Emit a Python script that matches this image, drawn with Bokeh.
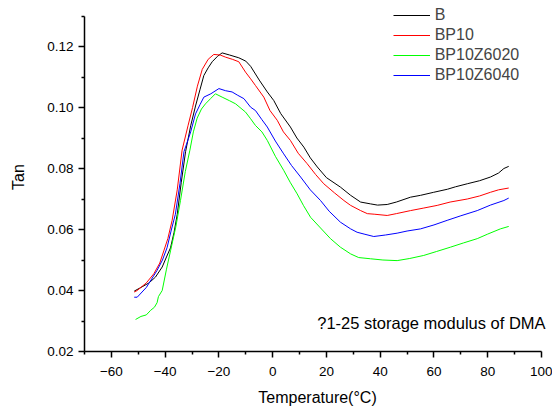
from bokeh.plotting import figure
from bokeh.models import FixedTicker, PrintfTickFormatter, Legend, LegendItem, Label, Range1d
from bokeh.embed import file_html
from bokeh.resources import INLINE

# ---- data ----
b_x = [-51.5, -49, -46, -43.6, -41.1, -39.5, -38, -36.7, -35.5, -34, -32.4, -30.5, -28.7, -27, -25.6,
       -24, -22.5, -20.5, -18.8, -16, -12.6, -10, -8.2, -5, -2, 0.4, 3, 6.6, 9, 11.6, 14, 16.6, 20, 25.2,
       29, 32.7, 36.4, 39, 42.6, 46, 51.3, 55, 59.9, 65, 68, 72.4, 77, 81, 84, 86, 87.8]
b_y = [0.0398, 0.0410, 0.0425, 0.0444, 0.0477, 0.0510, 0.0540, 0.0590, 0.0650, 0.0755, 0.0855, 0.0940,
       0.1005, 0.1060, 0.1105, 0.1130, 0.1150, 0.1168, 0.1179, 0.1172, 0.1163, 0.1152, 0.1135, 0.1090,
       0.1051, 0.1023, 0.0980, 0.0936, 0.0900, 0.0870, 0.0835, 0.0805, 0.0770, 0.0739, 0.0712, 0.0690,
       0.0684, 0.0680, 0.0682, 0.0690, 0.0706, 0.0712, 0.0722, 0.0732, 0.0740, 0.0750, 0.0760, 0.0772,
       0.0785, 0.0800, 0.0807]

bp10_x = [-51.5, -50.4, -47, -44.2, -42, -40.5, -39, -37.4, -35.5, -33.7, -31.5, -29.8, -28, -26.2, -24,
          -21.9, -19.5, -17.5, -15, -12.6, -10.1, -8.2, -6.4, -3.3, -1, 1.7, 4, 6.6, 9.5, 12.8, 16, 19, 23,
          26.5, 29, 32.7, 35.2, 38, 42.6, 46, 51.3, 56, 61.2, 66, 72.4, 77, 81, 84, 87.8]
bp10_y = [0.0395, 0.0400, 0.0425, 0.0455, 0.0490, 0.0530, 0.0570, 0.0630, 0.0730, 0.0860, 0.0940,
          0.1000, 0.1070, 0.1125, 0.1158, 0.1174, 0.1172, 0.1165, 0.1158, 0.1150, 0.1116, 0.1094,
          0.1072, 0.1034, 0.0990, 0.0958, 0.0920, 0.0892, 0.0850, 0.0816, 0.0780, 0.0750, 0.0720,
          0.0695, 0.0679, 0.0662, 0.0652, 0.0650, 0.0646, 0.0652, 0.0662, 0.0670, 0.0679, 0.0690,
          0.0700, 0.0710, 0.0722, 0.0730, 0.0736]

z20_x = [-51, -49, -47, -45.4, -44, -43, -42.5, -41.1, -39.5, -38, -36, -34.3, -32.5, -30.8, -29.5, -28.1,
         -26.5, -25, -23, -21.3, -18.8, -16, -13.8, -10.1, -8.2, -6.4, -4, -2, 1, 4.1, 6.5, 9.1, 11.5, 14.1,
         17.8, 21.5, 25.2, 29, 32, 36.4, 41, 46.3, 51, 56.2, 61, 66.1, 71, 76.1, 80, 84.7, 87.8]
z20_y = [0.0305, 0.0315, 0.0320, 0.0335, 0.0345, 0.0360, 0.0380, 0.0400, 0.0470, 0.0530, 0.0610,
         0.0695, 0.0790, 0.0860, 0.0920, 0.0965, 0.0995, 0.1012, 0.1030, 0.1045, 0.1034, 0.1022,
         0.1012, 0.0985, 0.0963, 0.0941, 0.0920, 0.0892, 0.0840, 0.0794, 0.0755, 0.0717, 0.0678,
         0.0640, 0.0605, 0.0570, 0.0542, 0.0520, 0.0508, 0.0504, 0.0500, 0.0498, 0.0505, 0.0515,
         0.0528, 0.0542, 0.0556, 0.0570, 0.0585, 0.0602, 0.0610]

z40_x = [-51.5, -50.4, -47, -43, -41, -39.3, -37.8, -36.2, -34.5, -33, -30.5, -28.7, -27, -25.6, -23, -20,
         -17.5, -15.1, -13, -10.7, -8.2, -6.4, -4, -2, 1, 4.1, 7, 10.4, 14, 17.8, 21, 25.2, 29, 31.4,
         34, 37.6, 42, 46.3, 50, 55, 60, 64.9, 70, 76.1, 81, 86, 87.8]
z40_y = [0.0378, 0.0378, 0.0410, 0.0466, 0.0500, 0.0540, 0.0595, 0.0650, 0.0750, 0.0855, 0.0920,
         0.0979, 0.1010, 0.1034, 0.1045, 0.1062, 0.1055, 0.1051, 0.1040, 0.1029, 0.1001, 0.0990,
         0.0960, 0.0936, 0.0890, 0.0848, 0.0810, 0.0772, 0.0730, 0.0695, 0.0660, 0.0624, 0.0602,
         0.0591, 0.0585, 0.0577, 0.0582, 0.0588, 0.0595, 0.0602, 0.0615, 0.0630, 0.0645, 0.0662,
         0.0680, 0.0695, 0.0703]

series_names = ["B", "BP10", "BP10Z6020", "BP10Z6040"]
series_colors = ["#000000", "#ff0000", "#00ff00", "#0000ff"]

x_ticks = [-60, -40, -20, 0, 20, 40, 60, 80, 100]
x_minor = [-70, -50, -30, -10, 10, 30, 50, 70, 90]
y_ticks = [0.02, 0.04, 0.06, 0.08, 0.10, 0.12]
y_minor = [0.03, 0.05, 0.07, 0.09, 0.11, 0.13]
x_lim = (-70, 100)
y_lim = (0.02, 0.13)

x_title = "Temperature(\u00b0C)"
y_title = "Tan"
note_text = "?1-25 storage modulus of DMA"

FONT = "Liberation Sans"

# frame is a bit larger than the axis extents so the legend / note are not clipped
x_pad = (x_lim[1] - x_lim[0]) * 9 / 457
y_pad = (y_lim[1] - y_lim[0]) * 13.5 / 335.5

p = figure(width=552, height=410, output_backend="svg", toolbar_location=None,
           x_range=Range1d(x_lim[0], x_lim[1] + x_pad), y_range=Range1d(y_lim[0], y_lim[1] + y_pad),
           min_border_left=84, min_border_right=2, min_border_top=2, min_border_bottom=59)
p.outline_line_color = None
p.xgrid.visible = False
p.ygrid.visible = False
p.background_fill_color = "white"
p.border_fill_color = "white"

renderers = []
for xs, ys, c in zip([b_x, bp10_x, z20_x, z40_x], [b_y, bp10_y, z20_y, z40_y], series_colors):
    r = p.line(xs, ys, line_color=c, line_width=1)
    renderers.append(r)

for ax in (p.xaxis[0], p.yaxis[0]):
    ax.axis_line_width = 1.5
    ax.axis_line_color = "black"
    ax.major_tick_line_color = "black"
    ax.minor_tick_line_color = "black"
    ax.major_tick_line_width = 1.5
    ax.minor_tick_line_width = 1.5
    ax.major_tick_in = 0
    ax.major_tick_out = 6
    ax.minor_tick_in = 0
    ax.minor_tick_out = 3
    ax.major_label_text_font = FONT
    ax.major_label_text_font_size = "13.5px"
    ax.major_label_text_color = "black"
    ax.axis_label_text_font = FONT
    ax.axis_label_text_font_size = "16px"
    ax.axis_label_text_font_style = "normal"
    ax.axis_label_text_color = "black"

p.xaxis[0].bounds = x_lim
p.yaxis[0].bounds = y_lim
p.xaxis[0].ticker = FixedTicker(ticks=x_ticks, minor_ticks=x_minor)
p.yaxis[0].ticker = FixedTicker(ticks=y_ticks, minor_ticks=y_minor)
p.yaxis[0].formatter = PrintfTickFormatter(format="%.2f")
p.xaxis[0].axis_label = x_title
p.yaxis[0].axis_label = y_title
p.xaxis[0].major_label_standoff = 9
p.yaxis[0].major_label_standoff = 5
p.xaxis[0].axis_label_standoff = 10
p.yaxis[0].axis_label_standoff = 17

legend = Legend(items=[LegendItem(label=n, renderers=[r]) for n, r in zip(series_names, renderers)],
                location=(308.7, 266.5), border_line_color=None, background_fill_alpha=0,
                padding=0, spacing=0, margin=0, glyph_width=37, glyph_height=20, label_height=20,
                label_standoff=5, label_text_font=FONT, label_text_font_size="16px")
p.add_layout(legend, "center")

note = Label(x=232.7, y=29, x_units="screen", y_units="screen", text=note_text,
             text_font=FONT, text_font_size="16.5px", text_baseline="middle", text_color="black")
p.add_layout(note)

open("out.html", "w").write(file_html(p, INLINE))
